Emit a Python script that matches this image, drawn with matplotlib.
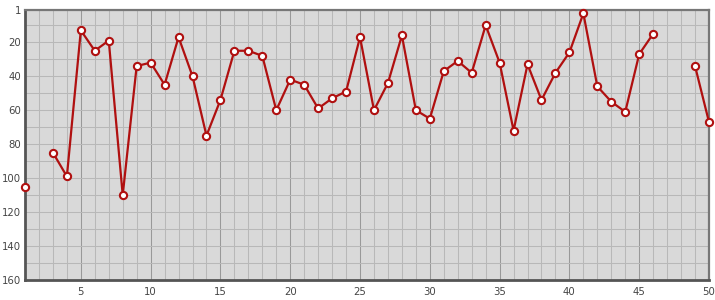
import numpy as np
import matplotlib
matplotlib.use("Agg")
import matplotlib.pyplot as plt
from matplotlib.ticker import MultipleLocator, FixedLocator

x = list(range(1, 51))
rank = [105, np.nan, 85, 99, 13, 25, 19, 110, 34, 32,
        45, 17, 40, 75, 54, 25, 25, 28, 60, 42,
        45, 59, 53, 49, 17, 60, 44, 16, 60, 65,
        37, 31, 38, 10, 32, 72, 33, 54, 38, 26,
        3, 46, 55, 61, 27, 15, np.nan, np.nan, 34, 67]
y_ticks = [1, 20, 40, 60, 80, 100, 120, 140, 160]
x_ticks = [5, 10, 15, 20, 25, 30, 35, 40, 45, 50]

fig = plt.figure(figsize=(7.15, 3.0), dpi=100)
ax = fig.add_axes([25/715, 20/300, (709-25)/715, (280-10)/300])
ax.set_facecolor("#d9d9d9")

ax.set_xlim(1, 50)
ax.set_ylim(160, 1)

# grid
ax.xaxis.set_major_locator(FixedLocator(x_ticks))
ax.xaxis.set_minor_locator(MultipleLocator(1))
ax.yaxis.set_major_locator(FixedLocator(y_ticks))
ax.yaxis.set_minor_locator(FixedLocator(list(range(10, 160, 10))))
ax.grid(which="minor", axis="both", color="#b8b8b8", linewidth=0.75)
ax.grid(which="major", axis="x", color="#999999", linewidth=0.75)
ax.grid(which="major", axis="y", color="#b8b8b8", linewidth=0.75)
ax.set_axisbelow(True)

ax.plot(x, rank, color="#b01010", linewidth=1.6, marker="o", markersize=5.2,
        markerfacecolor="white", markeredgecolor="#b01010", markeredgewidth=1.5,
        zorder=3, clip_on=False)

ax.tick_params(which="both", length=0)
ax.tick_params(axis="y", pad=3, labelsize=7.3, labelcolor="#444444")
ax.tick_params(axis="x", pad=5, labelsize=7.3, labelcolor="#444444")

for s in ["left", "bottom"]:
    ax.spines[s].set_color("#555555")
    ax.spines[s].set_linewidth(2.0)
for s in ["top", "right"]:
    ax.spines[s].set_color("#777777")
    ax.spines[s].set_linewidth(1.6)

fig.savefig("out.png", dpi=100)
